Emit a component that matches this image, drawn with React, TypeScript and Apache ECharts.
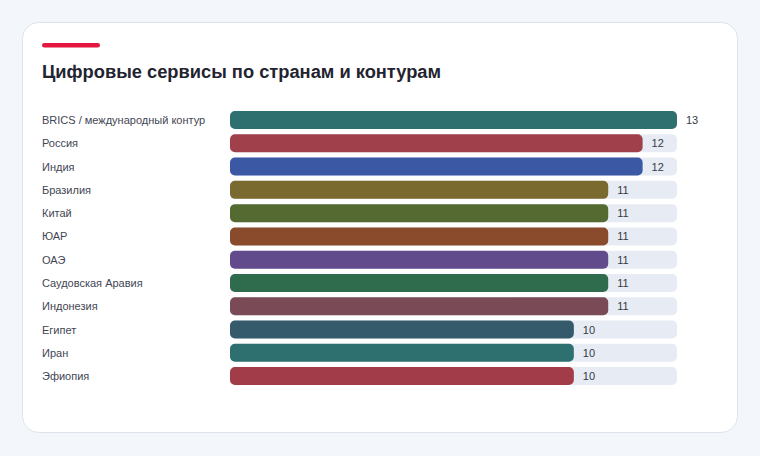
import React, { useEffect, useRef } from 'react';
import * as echarts from 'echarts';

const categories = [
  'BRICS / международный контур',
  'Россия',
  'Индия',
  'Бразилия',
  'Китай',
  'ЮАР',
  'ОАЭ',
  'Саудовская Аравия',
  'Индонезия',
  'Египет',
  'Иран',
  'Эфиопия',
];

const values = [13, 12, 12, 11, 11, 11, 11, 11, 11, 10, 10, 10];

const barColors = [
  '#2e6f70',
  '#a0404b',
  '#3a58a3',
  '#7a6a2f',
  '#546a30',
  '#8a4a2c',
  '#614b8c',
  '#2f6b4d',
  '#7a4b56',
  '#355a6c',
  '#2e7070',
  '#a13c48',
];

const maxValue = 13;
const title = 'Цифровые сервисы по странам и контурам';
const font = 'Liberation Sans';

export default function App() {
  const elRef = useRef<HTMLDivElement>(null);

  useEffect(() => {
    if (!elRef.current) return;
    const chart = echarts.init(elRef.current, undefined, { renderer: 'svg' });

    chart.setOption({
      animation: false,
      backgroundColor: '#f3f6fa',
      textStyle: { fontFamily: font },
      graphic: [
        {
          type: 'rect',
          shape: { x: 22.5, y: 22.5, width: 715, height: 410, r: 16 },
          style: { fill: '#ffffff', stroke: '#dde3ec', lineWidth: 1 },
          z: -10,
        },
        {
          type: 'rect',
          shape: { x: 42, y: 43, width: 58, height: 4.5, r: 2.25 },
          style: { fill: '#e3173f' },
        },
        {
          type: 'text',
          x: 42,
          y: 71,
          style: {
            text: title,
            fontFamily: font,
            fontSize: 18.3,
            fontWeight: 'bold',
            fill: '#1f2430',
            verticalAlign: 'middle',
          },
        },
      ],
      grid: { left: 230, right: 83, top: 108.4, bottom: 68.3 },
      xAxis: {
        type: 'value',
        min: 0,
        max: maxValue,
        show: false,
      },
      yAxis: {
        type: 'category',
        data: categories,
        inverse: true,
        axisLine: { show: false },
        axisTick: { show: false },
        axisLabel: {
          margin: 188,
          align: 'left',
          fontSize: 11,
          color: '#3f4654',
          fontFamily: font,
        },
      },
      series: [
        {
          type: 'bar',
          data: categories.map(() => maxValue),
          barWidth: 18,
          barGap: '-100%',
          itemStyle: { color: '#e7ecf4', borderRadius: 5 },
          silent: true,
          z: 1,
        },
        {
          type: 'bar',
          data: values.map((v, i) => ({
            value: v,
            itemStyle: { color: barColors[i] },
          })),
          barWidth: 18,
          itemStyle: { borderRadius: 5 },
          label: {
            show: true,
            position: 'right',
            distance: 9,
            fontSize: 11,
            color: '#333a45',
            fontFamily: font,
          },
          z: 2,
        },
      ],
    });

    return () => chart.dispose();
  }, []);

  return (
    <div
      ref={elRef}
      style={{ position: 'fixed', left: 0, top: 0, width: 760, height: 456 }}
    />
  );
}
